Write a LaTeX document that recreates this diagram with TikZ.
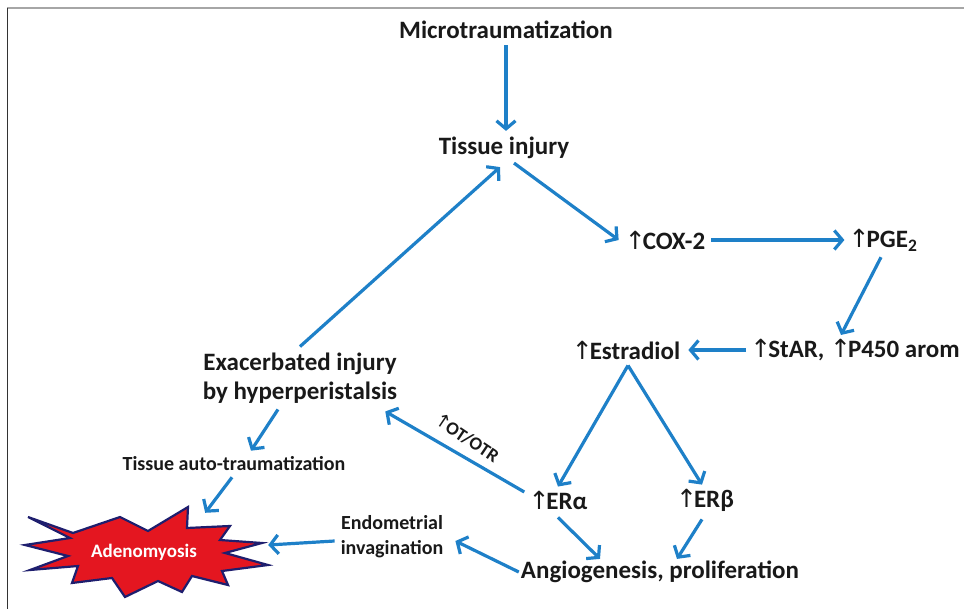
\documentclass[tikz,border=0pt]{standalone}
\usepackage{fontspec}
\setmainfont{Carlito}
\newfontfamily\symf{DejaVu Sans}
\usetikzlibrary{arrows.meta,calc}
\definecolor{arrblue}{RGB}{30,128,200}
\definecolor{txt}{RGB}{25,25,25}
\definecolor{starred}{RGB}{228,22,32}
\definecolor{starline}{RGB}{30,30,110}
\newcommand{\upar}{{\symf\mdseries ↑}\kern-0.12em}
\begin{document}
\begin{tikzpicture}[x=1pt,y=-1pt,
 lbl/.style={font=\fontsize{25}{29}\selectfont\bfseries, text=txt, inner sep=0pt, align=center},
 slbl/.style={font=\fontsize{20}{25}\selectfont\bfseries, text=txt, inner sep=0pt, align=center},
 arr/.style={draw=arrblue, line width=3.2pt, -{Straight Barb[length=8pt,width=19pt]}}]
\useasboundingbox (0,0) rectangle (964,609);
\draw[gray!70, line width=1.5pt] (7,8) -- (964,8);
\draw[black!80, line width=1pt] (7,8) -- (7,609);

\node[lbl] (micro) at (506,30) {Microtraumatization};
\node[lbl] (tissue) at (504,148) {Tissue injury};
\node[lbl] (cox) at (665,240) {\upar COX-2};
\node[lbl] (pge) at (883,240) {\upar PGE\textsubscript{2}};
\node[lbl] (star) at (855,350) {\upar StAR, \upar P450 arom};
\node[lbl] (estr) at (626,350) {\upar Estradiol};
\node[lbl] (exac) at (300,378) {Exacerbated injury\\by hyperperistalsis};
\node[slbl] (auto) at (234,464) {Tissue auto-traumatization};
\node[lbl] (era) at (558,500) {\upar ERα};
\node[lbl] (erb) at (705,500) {\upar ERβ};
\node[lbl] (angio) at (660,572) {Angiogenesis, proliferation};
\node[slbl] (endo) at (392,537) {Endometrial\\invagination};
\node[slbl, font=\fontsize{18.5}{20}\selectfont\bfseries, rotate=-34] (ot) at (467,438) {\upar OT/OTR};

\filldraw[fill=starred, draw=starline, line width=2.2pt, line join=miter]
 (28,517) -- (73,533) -- (120,517) -- (148,531) -- (188,507) -- (187,528)
 -- (230,526) -- (220,540) -- (262,543) -- (225,553) -- (268,565) -- (222,571)
 -- (228,585) -- (192,576) -- (182,592) -- (158,581) -- (125,597) -- (112,578)
 -- (72,583) -- (78,566) -- (30,570) -- (68,556) -- (25,545) -- (70,538) -- cycle;
\node[font=\fontsize{19}{22}\selectfont\bfseries, text=white, minimum width=244pt, minimum height=90pt, inner sep=0pt] (adeno) at (144,552) {Adenomyosis};

\draw[arr] ($(micro.south)+(0,6)$) -- ($(tissue.north)+(2,-6)$);
\draw[arr] ($(tissue.south)+(10,4)$) -- ($(cox.west)+(-6,0)$);
\draw[arr] ($(cox.east)+(6,0)$) -- ($(pge.west)+(-4,0)$);
\draw[arr] ($(pge.south)+(-2,6)$) -- ($(star.north)+(-14,-4)$);
\draw[arr] ($(star.west)+(-4,0)$) -- ($(estr.east)+(8,0)$);
\draw[arr] ($(estr.south)+(2,6)$) -- ($(era.north)+(0,-4)$);
\draw[arr] ($(estr.south)+(2,6)$) -- ($(erb.north)+(-3,-4)$);
\draw[arr] ($(era.west)+(-4,-8)$) -- ($(exac.south east)+(-12,8)$);
\draw[arr] ($(exac.north)+(0,-6)$) -- ($(tissue.south)+(-4,8)$);
\draw[arr] ($(exac.south)+(-22,6)$) -- ($(auto.north)+(17,-6)$);
\draw[arr] ($(auto.south)+(-2,6)$) -- ($(adeno.north east)+(-61,6)$);
\draw[arr] ($(endo.west)+(-6,4)$) -- ($(adeno.east)+(2,-7)$);
\draw[arr] ($(angio.west)+(-2,0)$) -- ($(endo.east)+(12,4)$);
\draw[arr] ($(era.south)+(0,8)$) -- ($(angio.north)+(-60,-2)$);
\draw[arr] ($(erb.south)+(-3,8)$) -- ($(angio.north)+(17,-2)$);
\end{tikzpicture}
\end{document}
